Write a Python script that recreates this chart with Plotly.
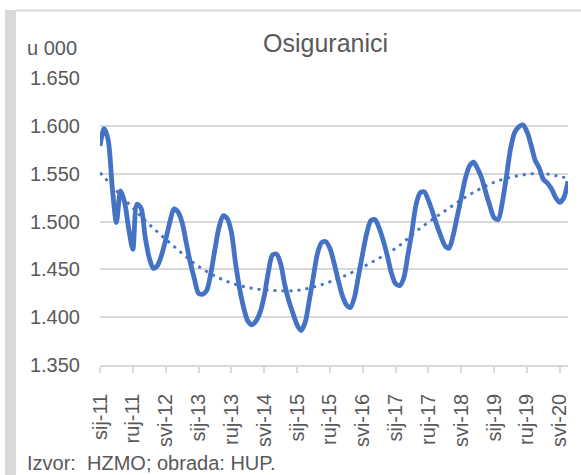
import plotly.graph_objects as go

# Monthly insured persons (thousands), Jan 2011 - Jul 2020
months_hr = ["sij", "velj", "ožu", "tra", "svi", "lip", "srp", "kol", "ruj", "lis", "stu", "pro"]
values = [
    1579, 1597, 1585, 1535, 1499, 1532, 1520, 1492, 1471, 1518, 1514, 1484,   # 2011
    1462, 1451, 1454, 1465, 1481, 1499, 1513, 1510, 1499, 1478, 1457, 1440,   # 2012
    1425, 1424, 1428, 1446, 1471, 1494, 1506, 1503, 1489, 1457, 1430, 1410,   # 2013
    1396, 1392, 1396, 1405, 1422, 1447, 1465, 1466, 1456, 1434, 1417, 1404,   # 2014
    1392, 1386, 1395, 1418, 1443, 1467, 1478, 1479, 1472, 1457, 1439, 1423,   # 2015
    1413, 1410, 1421, 1444, 1467, 1488, 1501, 1502, 1493, 1480, 1464, 1446,   # 2016
    1435, 1433, 1441, 1465, 1490, 1518, 1530, 1531, 1522, 1510, 1497, 1485,   # 2017
    1475, 1472, 1485, 1505, 1525, 1545, 1558, 1562, 1555, 1545, 1530, 1516,   # 2018
    1504, 1502, 1520, 1547, 1576, 1593, 1599, 1601, 1594, 1580, 1564, 1556,   # 2019
    1544, 1540, 1534, 1525, 1520, 1525, 1542,                                 # 2020
]
start_year = 2011
categories = [f"{months_hr[i % 12]}-{str(start_year + i // 12)[2:]}" for i in range(len(values))]
tick_step = 8
tick_idx = list(range(0, len(values), tick_step))
tick_text = [categories[i] for i in tick_idx]

# Dotted polynomial trend line, every 6 months
trend_idx = [0, 6, 12, 18, 24, 30, 36, 42, 48, 54, 60, 66, 72, 78, 84, 90, 96, 102, 108, 114]
trend_vals = [1551, 1523, 1497, 1474, 1453, 1439, 1431, 1428, 1428, 1434,
              1444, 1457, 1472, 1493, 1511, 1528, 1541, 1548, 1550, 1545]

y_ticks = [1350, 1400, 1450, 1500, 1550, 1600, 1650]

BLUE = "#4472C4"
GREY_TXT = "#595959"
GRID = "#D9D9D9"
FONT = "Liberation Sans, Arial, sans-serif"

fig = go.Figure()
fig.add_trace(go.Scatter(x=list(range(len(values))), y=values, mode="lines",
                         line=dict(color=BLUE, width=4.8, shape="spline", smoothing=0.8),
                         hoverinfo="skip", showlegend=False))
fig.add_trace(go.Scatter(x=trend_idx, y=trend_vals, mode="lines",
                         line=dict(color=BLUE, width=2.8, dash="3px,5px", shape="spline", smoothing=1.0),
                         hoverinfo="skip", showlegend=False))

W, H = 581, 475
L, R, T, B = 100, 13, 78, 110
pw, ph = W - L - R, H - T - B

def px_x(p):
    return (p - L) / pw

def px_y(p):
    return (H - B - p) / ph

fig.update_layout(
    width=W, height=H,
    margin=dict(l=L, r=R, t=T, b=B, pad=0),
    paper_bgcolor="white", plot_bgcolor="white",
    separators=",.",
    font=dict(family=FONT, color=GREY_TXT, size=20),
    xaxis=dict(range=[0, len(values) - 1], tickmode="array", tickvals=tick_idx, ticktext=tick_text,
               tickangle=-90, ticks="outside", ticklen=6, tickcolor=GRID, tickwidth=1.5,
               showgrid=False, showline=True, linecolor=GRID, linewidth=1.5, zeroline=False,
               tickfont=dict(size=20, color=GREY_TXT), ticklabelstandoff=13, automargin=False),
    yaxis=dict(range=[1350, 1650], tickmode="array", tickvals=y_ticks, tickformat=",d",
               showgrid=True, gridcolor=GRID, gridwidth=1.5, zeroline=False, showline=False,
               ticks="", tickfont=dict(size=20, color=GREY_TXT), ticklabelstandoff=19, automargin=False),
    shapes=[
        dict(type="rect", xref="paper", yref="paper", x0=px_x(5), x1=px_x(16), y0=px_y(H), y1=px_y(10),
             fillcolor=GRID, line=dict(width=0), layer="below"),
        dict(type="line", xref="paper", yref="paper", x0=px_x(16), x1=px_x(W), y0=px_y(10.5), y1=px_y(10.5),
             line=dict(color=GRID, width=2)),
    ],
    annotations=[
        dict(text="u 000", xref="paper", yref="paper", x=px_x(25), y=px_y(48), xanchor="left", yanchor="middle",
             showarrow=False, font=dict(size=20, color=GREY_TXT)),
        dict(text="Osiguranici", xref="paper", yref="paper", x=px_x(325), y=px_y(43), xanchor="center", yanchor="middle",
             showarrow=False, font=dict(size=25, color=GREY_TXT)),
        dict(text="Izvor:\u00a0 HZMO; obrada: HUP.", xref="paper", yref="paper", x=px_x(25), y=px_y(463),
             xanchor="left", yanchor="middle", showarrow=False, font=dict(size=20, color=GREY_TXT)),
    ],
)

fig.write_html("out.html", config={"displayModeBar": False},
               post_script="document.body.style.margin='0';document.body.style.padding='0';")
